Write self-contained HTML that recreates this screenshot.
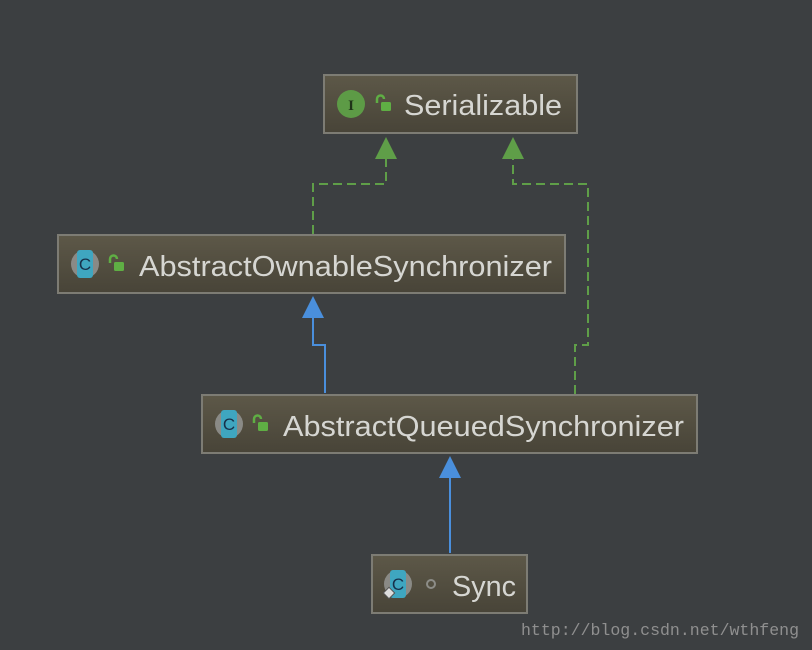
<!DOCTYPE html>
<html><head><meta charset="utf-8"><style>
html,body{margin:0;padding:0;background:#3c3f41;}
svg{display:block}
</style></head><body>
<svg width="812" height="650" viewBox="0 0 812 650" xmlns="http://www.w3.org/2000/svg">
<defs>
<linearGradient id="g" x1="0" y1="0" x2="0" y2="1">
<stop offset="0" stop-color="#5d5848"/><stop offset="1" stop-color="#484438"/>
</linearGradient>
<g id="lock"><path d="M0,6 v-4 a3.5,3.5 0 0 1 7,0" fill="none" stroke="#5fae44" stroke-width="2.5"/><rect x="4" y="5" width="10" height="9" rx="1.5" fill="#5fae44"/></g>
<g id="cic"><circle r="14" fill="#8a8a86"/><rect x="-8" y="-14" width="16" height="28" rx="3" fill="#3fa6c0"/><text x="0" y="6" text-anchor="middle" font-family="Liberation Sans, sans-serif" font-size="17" fill="#17304a">C</text></g>
</defs>
<rect width="812" height="650" fill="#3c3f41"/>
<g fill="none" stroke="#5f9e48" stroke-width="2" stroke-dasharray="9,5">
<path d="M313,234 V184 H386 V158"/>
<path d="M575,394 V345 H588 V184 H513 V158"/>
</g>
<polygon points="386,137 375,159 397,159" fill="#5f9e48"/>
<polygon points="513,137 502,159 524,159" fill="#5f9e48"/>
<g fill="none" stroke="#4a8fdc" stroke-width="2">
<path d="M325,393 V345 H313 V316"/>
<path d="M450,553 V476"/>
</g>
<polygon points="313,296 302,318 324,318" fill="#4a8fdc"/>
<polygon points="450,456 439,478 461,478" fill="#4a8fdc"/>
<g stroke="#7d7c74" stroke-width="2" fill="url(#g)">
<rect x="324" y="75" width="253" height="58"/>
<rect x="58" y="235" width="507" height="58"/>
<rect x="202" y="395" width="495" height="58"/>
<rect x="372" y="555" width="155" height="58"/>
</g>
<circle cx="351" cy="104" r="14" fill="#5d9b46"/>
<text x="351" y="110" text-anchor="middle" font-family="Liberation Serif, serif" font-size="15" font-weight="bold" fill="#1f3318">I</text>
<use href="#lock" x="377" y="97"/>
<use href="#cic" x="85" y="264"/>
<use href="#lock" x="110" y="257"/>
<use href="#cic" x="229" y="424"/>
<use href="#lock" x="254" y="417"/>
<use href="#cic" x="398" y="584"/>
<rect x="385" y="589" width="8" height="8" fill="#ddd" stroke="#555" stroke-width="1" transform="rotate(45 389 593)"/>
<circle cx="431" cy="584" r="4" fill="none" stroke="#8d8d88" stroke-width="2"/>
<g font-family="Liberation Sans, sans-serif" font-size="29" fill="#d6d6d2">
<text x="404" y="115" textLength="158" lengthAdjust="spacingAndGlyphs">Serializable</text>
<text x="139" y="276" textLength="413" lengthAdjust="spacingAndGlyphs">AbstractOwnableSynchronizer</text>
<text x="283" y="436" textLength="401" lengthAdjust="spacingAndGlyphs">AbstractQueuedSynchronizer</text>
<text x="452" y="596" textLength="64" lengthAdjust="spacingAndGlyphs">Sync</text>
</g>
<text x="521" y="635" font-family="Liberation Mono, monospace" font-size="16.5" fill="#8f8f8f" textLength="278" lengthAdjust="spacingAndGlyphs">http://blog.csdn.net/wthfeng</text>
</svg>
</body></html>
